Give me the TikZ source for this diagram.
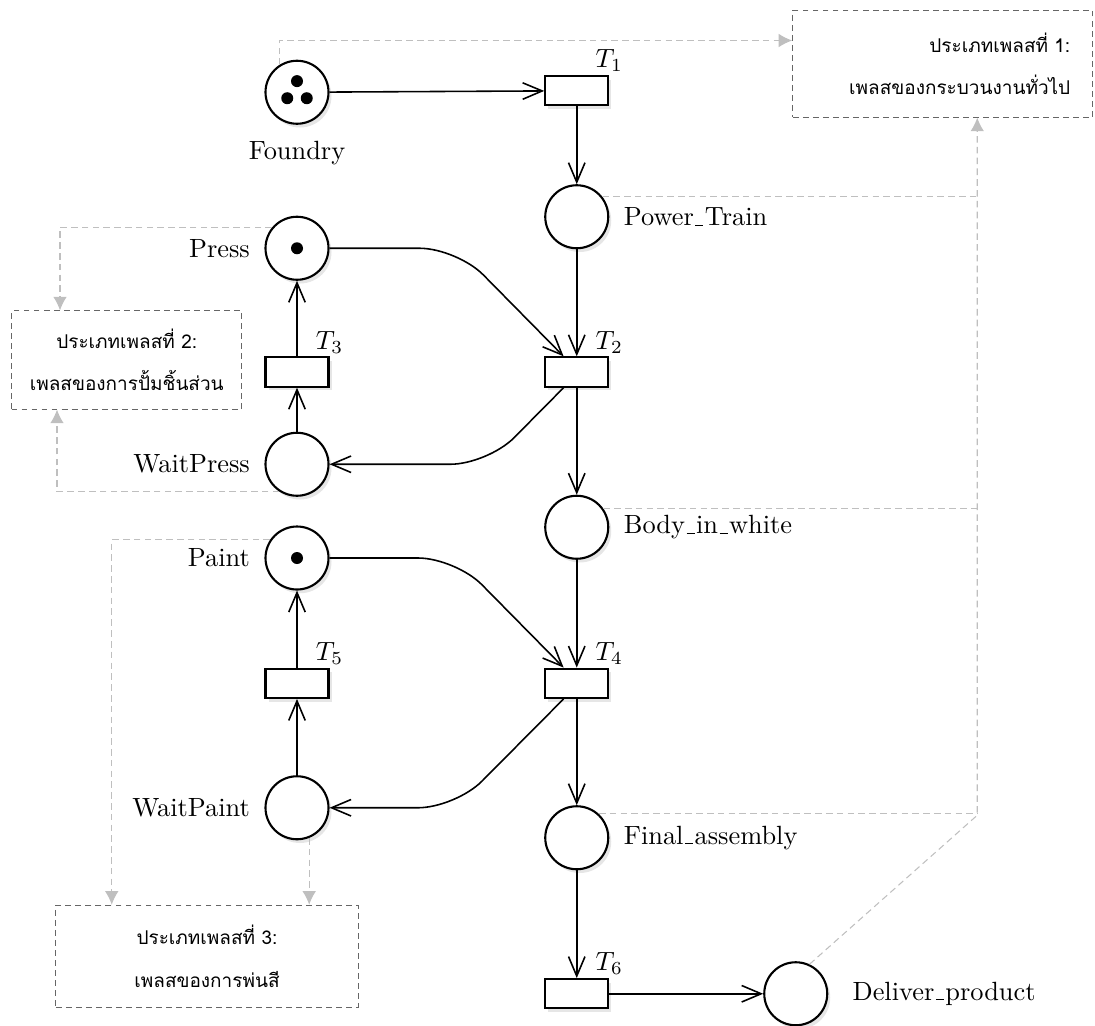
\documentclass[tikz,border=0pt]{standalone}
\usepackage{fontspec}
\newfontfamily\thaifont[Script=Thai]{Loma}
\usepackage{tikz}
\usetikzlibrary{arrows.meta,petri,shadows,calc,positioning}
\tikzset{>={Straight Barb[length=2.6mm,width=2.2mm]}}
\newcommand\usc{\leavevmode\kern.06em\vbox{\hrule width.3em}\kern.06em}

\begin{document}
\begin{tikzpicture}[
		every place/.style={minimum size=8.4mm, thick, fill=white, drop shadow={opacity=0.2, shadow xshift=0.4mm, shadow yshift=-0.5mm}},
		every transition/.style={draw, thick, fill=white, minimum width=8.4mm, minimum height=3.9mm, drop shadow={opacity=0.2, shadow xshift=0.4mm, shadow yshift=-0.5mm}},
		every token/.style={minimum size=1.6mm},
		token distance=2.6mm, label distance=0.7mm,
		tname/.style={label={[inner sep=1pt, label distance=0pt]above right:#1}},
		arc/.style={->, semithick},
		link/.style={gray!50, dash pattern=on 2.5pt off 1.6pt},
		linkto/.style={link, -{Latex[length=1.8mm,width=1.8mm]}},
		note/.style={draw=black!60, dash pattern=on 2.2pt off 1.6pt, font=\thaifont\fontsize{7.2pt}{9pt}\selectfont}]
	\useasboundingbox (0,0) rectangle (14.6,-13.68);
	\node[place, tokens=3, label={[label distance=1mm]below:Foundry}] (foundry) at (3.96,-1.23) {};
	\node[transition, tname=$T_1$] (t1) at (7.69,-1.21) {};
	\node[place, label=right:Power\usc Train] (power) at (7.69,-2.89) {};
	\node[place, tokens=1, label=left:Press] (press) at (3.96,-3.31) {};
	\node[transition, tname=$T_3$] (t3) at (3.96,-4.96) {};
	\node[transition, tname=$T_2$] (t2) at (7.69,-4.96) {};
	\node[place, label=left:WaitPress] (waitpress) at (3.96,-6.19) {};
	\node[place, label=right:Body\usc in\usc white] (body) at (7.69,-7.03) {};
	\node[place, tokens=1, label=left:Paint] (paint) at (3.96,-7.44) {};
	\node[transition, tname=$T_5$] (t5) at (3.96,-9.11) {};
	\node[transition, tname=$T_4$] (t4) at (7.69,-9.11) {};
	\node[place, label=left:WaitPaint] (waitpaint) at (3.96,-10.77) {};
	\node[place, label=right:Final\usc assembly] (final) at (7.69,-11.17) {};
	\node[transition, tname=$T_6$] (t6) at (7.69,-13.25) {};
	\node[place, label={[label distance=2mm]right:Deliver\usc product}] (deliver) at (10.61,-13.25) {};

	\node[note, text width=3.4cm, inner sep=3mm, minimum height=1.32cm, align=right] (box1) at (12.57,-0.85) {ประเภทเพลสที่ 1:\\[7pt] เพลสของกระบวนงานทั่วไป};
	\node[note, minimum width=3.07cm, minimum height=1.31cm, align=center] (box2) at (1.69,-4.8) {ประเภทเพลสที่ 2:\\[7pt] เพลสของการปั้มชิ้นส่วน};
	\node[note, minimum width=4.03cm, minimum height=1.36cm, align=center] (box3) at (2.76,-12.75) {ประเภทเพลสที่ 3:\\[7pt] เพลสของการพ่นสี};
	\coordinate (hub) at (13.03,-10.87);

	\draw[arc] (foundry) -- (t1);
	\draw[arc] (t1) -- (power);
	\draw[arc] (power) -- (t2);
	\draw[arc] (t2) -- (body);
	\draw[arc] (body) -- (t4);
	\draw[arc] (t4) -- (final);
	\draw[arc] (final) -- (t6);
	\draw[arc] (t6) -- (deliver);
	\draw[arc] (waitpress) -- (t3);
	\draw[arc] (t3) -- (press);
	\draw[arc] (waitpaint) -- (t5);
	\draw[arc] (t5) -- (paint);
	\draw[arc, rounded corners=5mm] (press.east) -- +(1.7,0) -- (t2.130);
	\draw[arc, rounded corners=5mm] (t2.230) -- ($(waitpress.east)+(2.11,0)$) -- (waitpress.east);
	\draw[arc, rounded corners=5mm] (paint.east) -- +(1.68,0) -- (t4.130);
	\draw[arc, rounded corners=5mm] (t4.230) -- ($(waitpaint.east)+(1.68,0)$) -- (waitpaint.east);

	\draw[linkto] (foundry.123) |- ($(box1.west)+(0,0.31)$);
	\draw[linkto] (deliver.65) -- (hub) -- (hub |- box1.south);
	\draw[link] (power.38) -- (power.38 -| hub);
	\draw[link] (body.35) -- (body.35 -| hub);
	\draw[link] (final.47) -- (final.47 -| hub);
	\draw[linkto] (press.140) -| ($(box2.north)+(-0.89,0)$);
	\draw[linkto] (waitpress.237) -| ($(box2.south)+(-0.93,0)$);
	\draw[linkto] (paint.146) -| ($(box3.north)+(-1.27,0)$);
	\draw[linkto] (waitpaint.292) -- (waitpaint.292 |- box3.north);
\end{tikzpicture}
\end{document}
